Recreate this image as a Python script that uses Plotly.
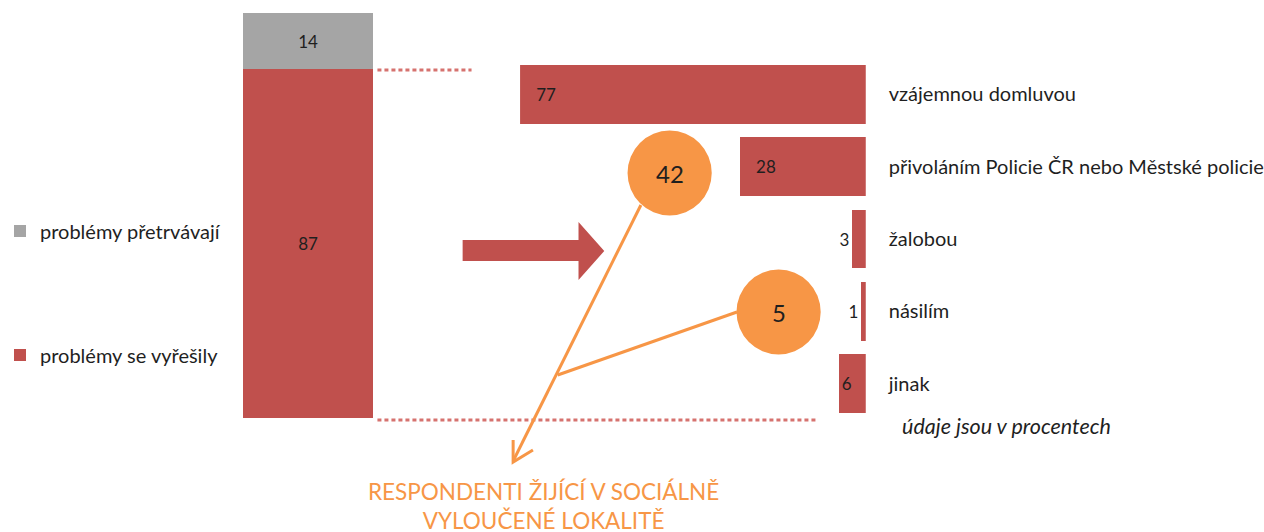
import plotly.graph_objects as go

# data
status_labels = ["problémy se vyřešily", "problémy přetrvávají"]
status_values = [87, 14]
status_colors = ["#C0504D", "#A5A5A5"]

way_labels = ["vzájemnou domluvou", "přivoláním Policie ČR nebo Městské policie",
              "žalobou", "násilím", "jinak"]
way_values = [77, 28, 3, 1, 6]

excluded_values = [42, 5]
note_text = "údaje jsou v procentech"
callout_text = "RESPONDENTI ŽIJÍCÍ V SOCIÁLNĚ<br>VYLOUČENÉ LOKALITĚ"

W, H = 1264, 532
FONT = "Lato, Open Sans, sans-serif"
RED = "#C0504D"
ORANGE = "#F79646"
TXT = "#1F1F1F"


def fx(x):
    return x / W


def fy(y):
    return 1 - y / H


fig = go.Figure()

# left stacked bar
for i, (lab, val, col) in enumerate(zip(status_labels, status_values, status_colors)):
    fig.add_trace(go.Bar(
        x=["all"], y=[val], name=lab, width=[1],
        marker=dict(color=col, line=dict(width=0)),
        text=[val], textposition="inside", insidetextanchor="middle",
        textfont=dict(size=17, color=TXT, family=FONT),
        legendgroup=lab, legendrank=len(status_labels) - i,
        xaxis="x", yaxis="y", hoverinfo="skip",
    ))

# right horizontal bars (reversed x axis so they grow to the left)
positions = ["inside" if v >= 5 else "outside" for v in way_values]
pad = "\u00a0" * 3
templates = [pad + "%{x}" if v > 10 else "%{x}" for v in way_values]
fig.add_trace(go.Bar(
    x=way_values, y=way_labels, orientation="h", width=[0.81] * len(way_values),
    marker=dict(color=RED, line=dict(width=0)),
    texttemplate=templates, textposition=positions, insidetextanchor="end",
    textfont=dict(size=17, color=TXT, family=FONT),
    cliponaxis=False, showlegend=False, xaxis="x2", yaxis="y2", hoverinfo="skip",
))

shapes = []
dot_col = "#D6726F"
# dotted connector lines
shapes.append(dict(type="line", xref="paper", yref="paper", x0=fx(375), x1=fx(470),
                   y0=fy(70), y1=fy(70),
                   line=dict(color=dot_col, width=3, dash="4px,3px")))
shapes.append(dict(type="line", xref="paper", yref="paper", x0=fx(375), x1=fx(820),
                   y0=fy(420), y1=fy(420), line=dict(color=dot_col, width=3, dash="4px,3px")))

# big block arrow
pts = [(461, 240), (578, 240), (578, 222), (604, 251), (578, 280), (578, 261), (461, 261)]
path = "M " + " L ".join(f"{fx(a):.5f},{fy(b):.5f}" for a, b in pts) + " Z"
shapes.append(dict(type="path", xref="paper", yref="paper", path=path,
                   fillcolor=RED, line=dict(width=0)))

# orange callout lines
shapes.append(dict(type="line", xref="paper", yref="paper", x0=fx(641), y0=fy(205),
                   x1=fx(512), y1=fy(461), line=dict(color=ORANGE, width=3)))
shapes.append(dict(type="line", xref="paper", yref="paper", x0=fx(738), y0=fy(312),
                   x1=fx(557), y1=fy(375), line=dict(color=ORANGE, width=3)))
head = [(512, 440), (512, 462), (532, 450)]
shapes.append(dict(type="path", xref="paper", yref="paper",
                   path="M " + " L ".join(f"{fx(a):.5f},{fy(b):.5f}" for a, b in head),
                   line=dict(color=ORANGE, width=3)))

# circles
annotations = []
for (cx, cy), val in zip([(670, 173), (780, 312)], excluded_values):
    r = 42.5
    shapes.append(dict(type="circle", xref="paper", yref="paper",
                       x0=fx(cx - r), x1=fx(cx + r), y0=fy(cy + r), y1=fy(cy - r),
                       fillcolor=ORANGE, line=dict(width=0), layer="above"))
    annotations.append(dict(x=fx(cx), y=fy(cy), xref="paper", yref="paper", text=str(val),
                            xanchor="center", yanchor="middle",
                            showarrow=False, font=dict(size=24, color=TXT, family=FONT)))

annotations.append(dict(x=fx(1010), y=fy(426), xref="paper", yref="paper",
                        text=f"<i>{note_text}</i>", showarrow=False,
                        xanchor="center", yanchor="middle",
                        font=dict(size=21.5, color=TXT, family=FONT)))
annotations.append(dict(x=fx(543), y=fy(506), xref="paper", yref="paper",
                        text=callout_text, showarrow=False, align="center",
                        xanchor="center", yanchor="middle",
                        font=dict(size=22.5, color=ORANGE, family=FONT)))

fig.update_layout(
    width=W, height=H,
    margin=dict(l=0, r=0, t=0, b=0),
    paper_bgcolor="white", plot_bgcolor="white",
    barmode="stack",
    font=dict(family=FONT, size=20, color=TXT),
    showlegend=True,
    legend=dict(x=-0.005, y=fy(293), xanchor="left", yanchor="middle",
                traceorder="grouped", tracegroupgap=95,
                font=dict(size=20, color=TXT, family=FONT),
                itemwidth=30, bgcolor="rgba(0,0,0,0)"),
    xaxis=dict(domain=[fx(239), fx(371)], range=[-0.5, 0.5], visible=False, fixedrange=True),
    yaxis=dict(domain=[fy(418), fy(13)], range=[0, sum(status_values)], visible=False),
    xaxis2=dict(domain=[fx(519), fx(868)], range=[max(way_values), 0], visible=False,
                anchor="y2"),
    yaxis2=dict(domain=[fy(419.75), fy(58.25)], anchor="x2", side="right",
                autorange="reversed", showgrid=False, showline=False, zeroline=False,
                ticks="", ticklabelstandoff=22,
                tickfont=dict(size=20, color=TXT, family=FONT)),
    shapes=shapes,
    annotations=annotations,
)

fig.write_html("out.html", config={"displayModeBar": False},
               post_script="document.body.style.margin='0';")
